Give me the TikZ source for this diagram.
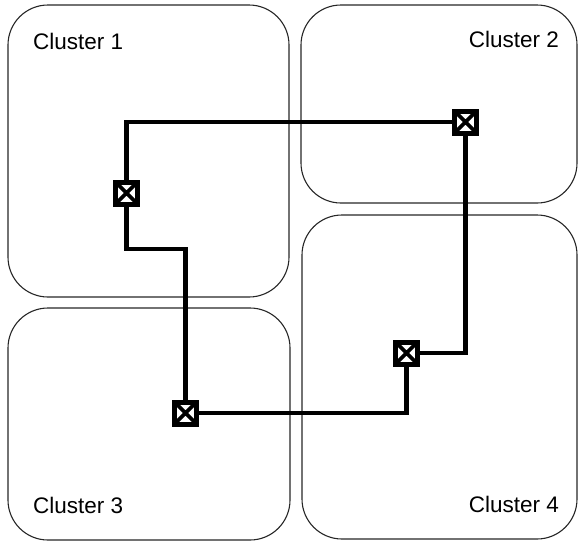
\documentclass[tikz,border=0pt]{standalone}
\usepackage{fontspec}
\setmainfont{Liberation Sans}
\begin{document}
\begin{tikzpicture}[x=1pt,y=-1pt,
  cluster/.style={draw=black!85, line width=1.1pt, rounded corners=40pt, inner sep=0pt},
  label/.style={font=\fontsize{22.5}{27}\selectfont, inner sep=0pt},
  wire/.style={line width=4.2pt},
  sw/.style={draw, fill=white, line width=5pt, minimum size=22pt, inner sep=0pt,
    path picture={\draw[line width=3.8pt] (path picture bounding box.north west) -- (path picture bounding box.south east)
      (path picture bounding box.north east) -- (path picture bounding box.south west);}}]
\useasboundingbox (0,0) rectangle (578,541);
\node[cluster, minimum width=281pt, minimum height=292pt] (c1) at (148.5,151) {};
\node[cluster, minimum width=276pt, minimum height=198pt] (c2) at (439,104) {};
\node[cluster, minimum width=282pt, minimum height=232pt] (c3) at (149,424) {};
\node[cluster, minimum width=275pt, minimum height=324pt] (c4) at (439.5,377) {};
\node[label, anchor=base west] (t1) at (33,49) {Cluster 1};
\node[label, anchor=base east] (t2) at (559,47) {Cluster 2};
\node[label, anchor=base west] (t3) at (33,513) {Cluster 3};
\node[label, anchor=base east] (t4) at (559,512) {Cluster 4};
\coordinate (j1) at (185.5,249);
\node[sw] (b1) at (126.5,193) {};
\node[sw] (b2) at (465.5,122) {};
\node[sw] (b3) at (406.5,353) {};
\node[sw] (b4) at (185.5,413) {};
\draw[wire] (b1.north) |- (b2.west);
\draw[wire] (b1.south) |- (j1) -- (b4.north);
\draw[wire] (b2.south) |- (b3.east);
\draw[wire] (b3.south) |- (b4.east);
\end{tikzpicture}
\end{document}
